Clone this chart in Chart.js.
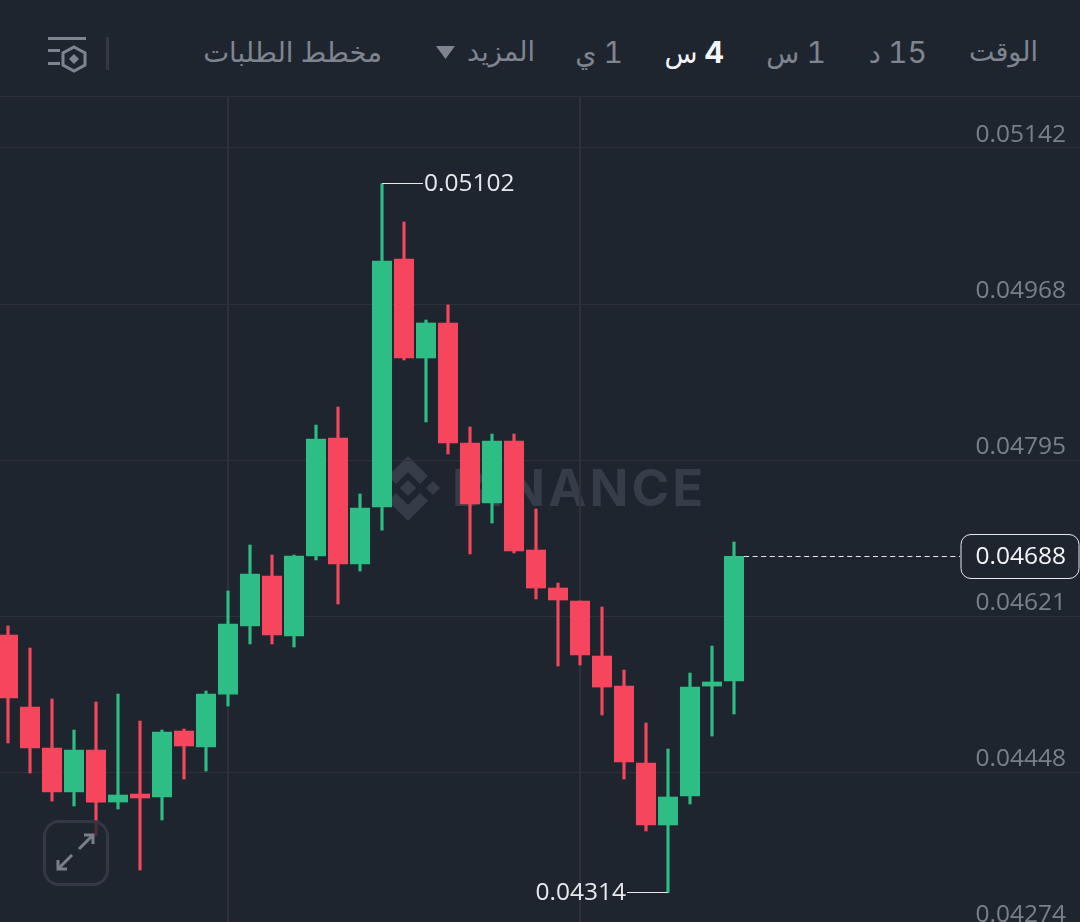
<!DOCTYPE html>
<html lang="ar">
<head>
<meta charset="utf-8">
<title>chart</title>
<script src="https://cdn.jsdelivr.net/npm/chart.js@4/dist/chart.umd.min.js"></script>
<style>
  html, body { margin: 0; padding: 0; background: #1f252f; overflow: hidden; }
  #page { position: relative; width: 1080px; height: 922px; font-family: Inter, "DejaVu Sans", sans-serif; }
  .tab { position: absolute; top: 32px; font-size: 27px; line-height: 40px; color: #7f8590; direction: rtl; white-space: nowrap; font-variant-numeric: tabular-nums; }
  .tab i { font-style: normal; font-size: 30px; }
  .tab.on { color: #f4f5f7; }
  .tab.on b { font-size: 30px; font-weight: 700; }
  #headline { position: absolute; left: 0; top: 96px; width: 1080px; height: 1px; background: #2b303b; }
  #mark { position: absolute; left: 452px; top: 458px; font-size: 51px; line-height: 60px; font-weight: 700; color: #363c48; letter-spacing: 3.1px; white-space: nowrap; }
  svg { position: absolute; left: 0; top: 0; }
  #chartbox { position: absolute; left: 0; top: 97px; width: 1080px; height: 825px; }
  #expand { position: absolute; left: 43px; top: 820px; width: 60px; height: 60px; border: 3px solid #333844; border-radius: 16px; background: rgba(31, 37, 47, 0.8); }
</style>
</head>
<body>
<div id="page">
  <div class="tab" style="right:42px">الوقت</div>
  <div class="tab" style="right:153px"><i>15</i> د</div>
  <div class="tab" style="right:254px"><i>1</i> س</div>
  <div class="tab on" style="right:356px"><b>4</b> س</div>
  <div class="tab" style="right:457px"><i>1</i> ي</div>
  <div class="tab" style="right:545px">المزيد</div>
  <div class="tab" style="right:698px;font-size:27.5px">مخطط الطلبات</div>
  <div id="headline"></div>

  <!-- header icons + watermark logo, under the canvas -->
  <svg width="1080" height="922">
    <polygon points="436,46 455,46 445.5,59" fill="#7f8590"/>
    <rect x="106" y="37" width="3" height="33" fill="#333844"/>
    <g fill="#7f8590">
      <rect x="48" y="37" width="38" height="3"/>
      <rect x="48" y="49" width="12" height="3"/>
      <rect x="48" y="62" width="12" height="3"/>
      <polygon points="74,54 79,59 74,64 69,59" />
    </g>
    <polygon points="74,47 85,53 85,65 74,71 63,65 63,53" fill="none" stroke="#7f8590" stroke-width="3"/>
    <g fill="#363c48">
      <polygon points="408,456 428,476 420,484 408,472 396,484 388,476"/>
      <polygon points="408,521 428,501 420,493 408,505 396,493 388,501"/>
      <polygon points="408,480 416,488 408,496 400,488"/>
      <polygon points="433,481 440,488 433,495 426,488"/>
      <polygon points="383,481 390,488 383,495 376,488"/>
    </g>
  </svg>
  <div id="mark">BINANCE</div>

  <div id="chartbox"><canvas id="candles" width="1080" height="825"></canvas></div>

  <div id="expand"></div>
  <svg width="1080" height="922" style="pointer-events:none">
    <g fill="none" stroke="#7a7f8a" stroke-width="3">
      <path d="M84 835 L93 835 L93 844"/>
      <path d="M93 835 L79 849"/>
      <path d="M58 860 L58 869 L67 869"/>
      <path d="M58 869 L72 855"/>
    </g>
  </svg>
</div>

<script>
// values, left to right
const candleIndex = [0,1,2,3,4,5,6,7,8,9,10,11,12,13,14,15,16,17,18,19,20,21,22,23,24,25,26,27,28,29,30,31,32,33];
const opens = [0.046004,0.045203,0.044747,0.044258,0.044725,0.044146,0.044235,0.044202,0.044936,0.044758,0.045347,0.046104,0.046660,0.045993,0.046882,0.048195,0.046793,0.047427,0.050185,0.049084,0.049474,0.048139,0.047472,0.048161,0.046949,0.046526,0.046382,0.045770,0.045436,0.044580,0.043891,0.044213,0.045436,0.045492];
const highs = [0.046104,0.045859,0.045292,0.044947,0.045259,0.045347,0.045047,0.044947,0.044958,0.045381,0.046493,0.047005,0.046893,0.046893,0.048339,0.048539,0.047572,0.05102,0.050597,0.049507,0.049674,0.048317,0.048239,0.048239,0.047405,0.046582,0.046382,0.046315,0.045614,0.045025,0.044736,0.045581,0.045881,0.047038];
const lows = [0.044803,0.044469,0.044157,0.044102,0.043768,0.044069,0.043390,0.043946,0.044402,0.044491,0.045214,0.045904,0.045904,0.045870,0.046838,0.046348,0.046715,0.047171,0.049062,0.048373,0.048017,0.046905,0.047249,0.046916,0.046404,0.045659,0.045670,0.045114,0.044402,0.043824,0.04314,0.044124,0.044880,0.045125];
const closes = [0.045303,0.044747,0.044258,0.044725,0.044146,0.044224,0.044191,0.044925,0.044769,0.045347,0.046126,0.046682,0.046004,0.046882,0.048184,0.046793,0.047416,0.050163,0.049084,0.049474,0.048139,0.047461,0.048161,0.046938,0.046526,0.046393,0.045781,0.045425,0.044591,0.043891,0.044202,0.045425,0.045481,0.04688];
const priceTicks = [0.05142,0.04968,0.04795,0.04621,0.04448,0.04274];
const timeTicks = [10,26];

const UP = '#2ebd85';
const DOWN = '#f6465d';
const GRID = '#2c313c';
const priceFont = { family: '"Open Sans", sans-serif', size: 24.5 };

const colors = closes.map((c, i) => c >= opens[i] ? UP : DOWN);
const bodies = candleIndex.map(i => ({ x: i, y: [opens[i], closes[i]] }));
const wicks = candleIndex.map(i => ({ x: i, y: [lows[i], highs[i]] }));

// high / low callouts and the last price line
const callouts = {
    id: 'callouts',
    afterDatasetsDraw(chart) {
        const { ctx, scales } = chart;
        const x = scales.x, y = scales.y;
        const hi = highs.indexOf(Math.max(...highs));
        const lo = lows.indexOf(Math.min(...lows));
        const last = closes.length - 1;
        ctx.save();
        ctx.font = priceFont.size + 'px ' + priceFont.family;
        ctx.textBaseline = 'middle';
        ctx.strokeStyle = '#e6e8ec';
        ctx.fillStyle = '#e6e8ec';
        ctx.lineWidth = 1;

        const hiY = Math.floor(y.getPixelForValue(highs[hi])) + 0.5;
        ctx.beginPath();
        ctx.moveTo(x.getPixelForValue(hi), hiY);
        ctx.lineTo(x.getPixelForValue(hi) + 41, hiY);
        ctx.stroke();
        ctx.textAlign = 'left';
        ctx.fillText(highs[hi].toFixed(5), x.getPixelForValue(hi) + 42, hiY + 1);

        const loY = Math.floor(y.getPixelForValue(lows[lo])) + 0.5;
        ctx.beginPath();
        ctx.moveTo(x.getPixelForValue(lo), loY);
        ctx.lineTo(x.getPixelForValue(lo) - 41, loY);
        ctx.stroke();
        ctx.textAlign = 'right';
        ctx.fillText(lows[lo].toFixed(5), x.getPixelForValue(lo) - 42, loY + 1);

        const lastY = Math.floor(y.getPixelForValue(closes[last])) + 0.5;
        ctx.setLineDash([5, 3.6]);
        ctx.beginPath();
        ctx.moveTo(x.getPixelForValue(last) + 10, lastY);
        ctx.lineTo(960, lastY);
        ctx.stroke();
        ctx.setLineDash([]);
        ctx.beginPath();
        ctx.roundRect(961, lastY - 22, 118, 44, 10);
        ctx.fillStyle = '#1f252f';
        ctx.fill();
        ctx.stroke();
        ctx.fillStyle = '#f4f5f7';
        ctx.fillText(closes[last].toFixed(5), 1066, lastY + 1);
        ctx.restore();
    }
};

new Chart(document.getElementById('candles'), {
    type: 'bar',
    data: {
        datasets: [
            { label: 'body', data: bodies, backgroundColor: colors, barThickness: 19.4, grouped: false, minBarLength: 3 },
            { label: 'wick', data: wicks, backgroundColor: colors, barThickness: 2.5, grouped: false }
        ]
    },
    options: {
        responsive: false,
        animation: false,
        layout: { padding: 0 },
        plugins: { legend: { display: false }, tooltip: { enabled: false } },
        scales: {
            x: {
                type: 'linear',
                offset: false,
                min: -0.3636,
                max: 48.7273,
                border: { display: false },
                grid: { color: GRID, drawTicks: false, lineWidth: 2, offset: false },
                ticks: { display: false },
                afterBuildTicks: axis => { axis.ticks = timeTicks.map(v => ({ value: v })); },
                afterFit: axis => { axis.height = 0; axis.paddingLeft = 0; axis.paddingRight = 0; }
            },
            y: {
                position: 'right',
                min: 0.042812,
                max: 0.051987,
                border: { display: false },
                grid: { color: GRID, drawTicks: false, lineWidth: 1 },
                afterBuildTicks: axis => { axis.ticks = priceTicks.map(v => ({ value: v })); },
                // labels sit inside the plot, the axis takes no room
                afterFit: axis => { axis.width = 0; axis.paddingTop = 0; axis.paddingBottom = 0; },
                ticks: {
                    mirror: true,
                    padding: -14,
                    labelOffset: -13,
                    color: '#7a808a',
                    font: priceFont,
                    autoSkip: false,
                    callback: v => v.toFixed(5)
                }
            }
        }
    },
    plugins: [callouts]
});
</script>
</body>
</html>
